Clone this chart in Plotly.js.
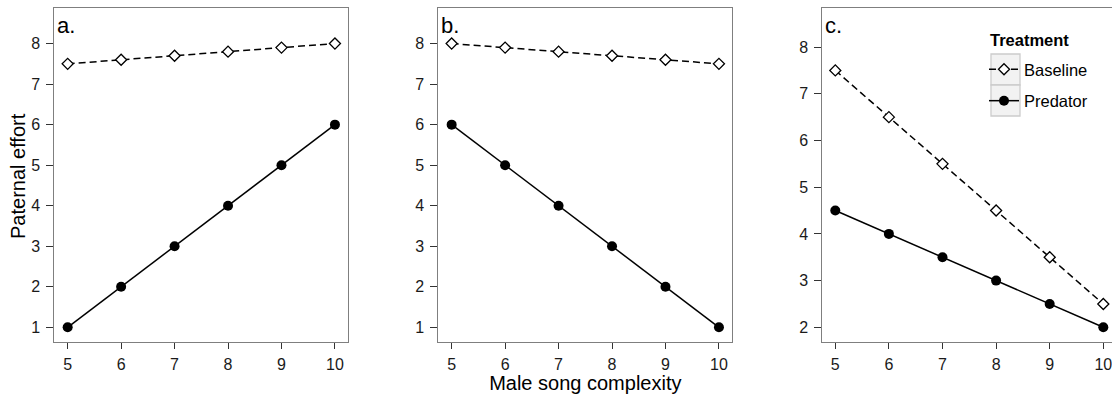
<!DOCTYPE html>
<html>
<head>
<meta charset="utf-8">
<script src="https://cdn.plot.ly/plotly-3.0.1.min.js"></script>
<style>html,body{margin:0;padding:0;background:#fff;}#chart{width:1112px;height:394px;}</style>
</head>
<body>
<div id="chart"></div>
<script>
// ---- data ----
const songComplexity = [5, 6, 7, 8, 9, 10];
const panelA_baseline = [7.5, 7.6, 7.7, 7.8, 7.9, 8.0];
const panelA_predator = [1, 2, 3, 4, 5, 6];
const panelB_baseline = [8.0, 7.9, 7.8, 7.7, 7.6, 7.5];
const panelB_predator = [6, 5, 4, 3, 2, 1];
const panelC_baseline = [7.5, 6.5, 5.5, 4.5, 3.5, 2.5];
const panelC_predator = [4.5, 4.0, 3.5, 3.0, 2.5, 2.0];
const treatments = ["Baseline", "Predator"];
const legendTitle = "Treatment";
const yTitle = "Paternal effort";
const xTitle = "Male song complexity";
const panelLabels = ["a.", "b.", "c."];
const yTicksAB = [1, 2, 3, 4, 5, 6, 7, 8];
const yTicksC = [2, 3, 4, 5, 6, 7, 8];

const FONT = "Liberation Sans, Arial, sans-serif";
const TICKSIZE = 16;
const baseStyle = {
  mode: "lines+markers",
  line: {color: "#000", width: 1.5, dash: "7px,4px"},
  marker: {symbol: "diamond", size: 8.5, color: "#fff", line: {width: 1.3, color: "#000"}}
};
const predStyle = {
  mode: "lines+markers",
  line: {color: "#000", width: 1.5},
  marker: {symbol: "circle", size: 10, color: "#000"}
};

function mk(y, style, name, xa, ya, show) {
  return Object.assign({x: songComplexity, y: y, name: name, xaxis: xa, yaxis: ya,
    showlegend: show, legendgroup: name, hoverinfo: "skip"}, JSON.parse(JSON.stringify(style)));
}

const traces = [
  mk(panelA_baseline, baseStyle, treatments[0], "x", "y", false),
  mk(panelA_predator, predStyle, treatments[1], "x", "y", false),
  mk(panelB_baseline, baseStyle, treatments[0], "x2", "y2", false),
  mk(panelB_predator, predStyle, treatments[1], "x2", "y2", false),
  mk(panelC_baseline, baseStyle, treatments[0], "x3", "y3", true),
  mk(panelC_predator, predStyle, treatments[1], "x3", "y3", true)
];

const W = 1112, H = 394;
const yDom = [1 - 341.7 / H, 1 - 8.3 / H];
function xax(dom, range, extra) {
  return Object.assign({
    domain: dom, range: range, tickvals: songComplexity, ticktext: songComplexity.map(String),
    showline: true, mirror: true, linecolor: "#7f7f7f", linewidth: 1,
    ticks: "outside", ticklen: 6, tickwidth: 1, tickcolor: "#333",
    showgrid: false, zeroline: false, fixedrange: true, ticklabelstandoff: 2,
    ticklabeloverflow: "allow",
    tickfont: {family: FONT, size: TICKSIZE, color: "#1a1a1a"}
  }, extra || {});
}
function yax(range, ticks, anchor, extra) {
  return Object.assign({
    domain: yDom, range: range, tickvals: ticks, ticktext: ticks.map(String), anchor: anchor,
    showline: true, mirror: true, linecolor: "#7f7f7f", linewidth: 1,
    ticks: "outside", ticklen: 7, tickwidth: 1, tickcolor: "#333",
    showgrid: false, zeroline: false, fixedrange: true, ticklabelstandoff: 3,
    ticklabeloverflow: "allow",
    tickfont: {family: FONT, size: TICKSIZE, color: "#1a1a1a"}
  }, extra || {});
}

const layout = {
  width: W, height: H,
  margin: {l: 0, r: 0, t: 0, b: 0, autoexpand: false},
  paper_bgcolor: "#fff", plot_bgcolor: "#fff",
  font: {family: FONT, color: "#000"},
  xaxis: xax([54.3 / W, 348.3 / W], [4.75, 10.25], {anchor: "y"}),
  yaxis: yax([0.645, 8.87], yTicksAB, "x"),
  xaxis2: xax([438.3 / W, 732.3 / W], [4.75, 10.25], {anchor: "y2",
    title: {text: xTitle, font: {family: FONT, size: 20, color: "#000"}, standoff: 4}}),
  yaxis2: yax([0.645, 8.87], yTicksAB, "x2"),
  xaxis3: xax([822.3 / W, 1], [4.7575, 10.1623], {anchor: "y3"}),
  yaxis3: yax([1.692, 8.83], yTicksC, "x3", {mirror: false}),
  showlegend: true,
  legend: {
    x: 984 / W, xanchor: "left", y: 1 - 52 / H, yanchor: "top",
    bgcolor: "rgba(0,0,0,0)", borderwidth: 0,
    font: {family: FONT, size: 16.5, color: "#000"},
    itemwidth: 30, tracegroupgap: 7, itemclick: false, itemdoubleclick: false
  },
  shapes: [
    {type: "rect", xref: "paper", yref: "paper", x0: 991 / W, x1: 1020 / W, y0: 1 - 85 / H, y1: 1 - 54 / H,
      fillcolor: "#f2f2f2", line: {color: "#cccccc", width: 1.3}, layer: "below"},
    {type: "rect", xref: "paper", yref: "paper", x0: 991 / W, x1: 1020 / W, y0: 1 - 116 / H, y1: 1 - 85 / H,
      fillcolor: "#f2f2f2", line: {color: "#cccccc", width: 1.3}, layer: "below"}
  ],
  annotations: panelLabels.map((t, i) => ({
    text: t, showarrow: false,
    xref: (i === 0 ? "x" : "x" + (i + 1)) + " domain", yref: (i === 0 ? "y" : "y" + (i + 1)) + " domain",
    x: 0, xanchor: "left", xshift: 1, y: 1, yanchor: "top", yshift: -3,
    font: {family: FONT, size: 22, color: "#000"}
  })).concat([{
    text: "<b>" + legendTitle + "</b>", showarrow: false, xref: "paper", yref: "paper",
    x: 988 / W, xanchor: "left", y: 1 - 40 / H, yanchor: "middle",
    font: {family: FONT, size: 16.5, color: "#000"}
  }, {
    text: yTitle, showarrow: false, textangle: -90, xref: "paper", yref: "paper",
    x: 18 / W, xanchor: "center", y: 1 - 176 / H, yanchor: "middle",
    font: {family: FONT, size: 20, color: "#000"}
  }])
};

Plotly.newPlot("chart", traces, layout, {staticPlot: true, displayModeBar: false});
</script>
</body>
</html>
